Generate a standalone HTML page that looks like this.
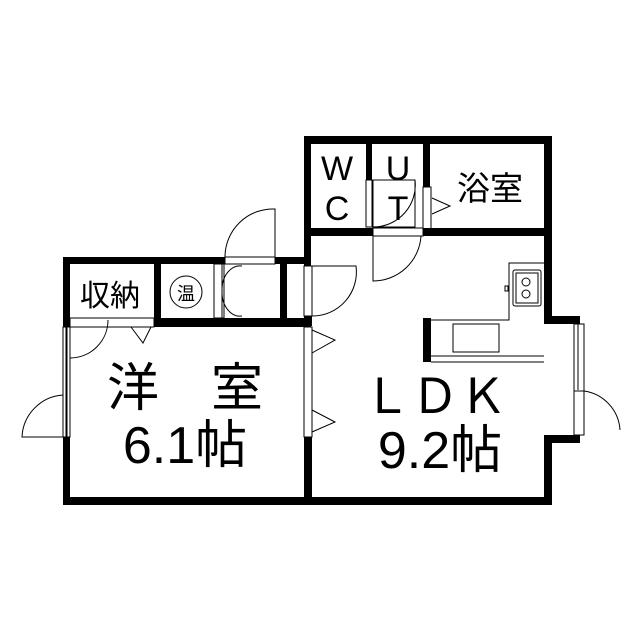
<html><body style="margin:0;background:#fff">
<svg width="640" height="640" viewBox="0 0 640 640" xmlns="http://www.w3.org/2000/svg">
<rect width="640" height="640" fill="#fff"/>
<g fill="#000">
<rect x="304" y="136" width="248" height="8"/>
<rect x="304" y="136" width="7" height="130"/>
<rect x="544" y="136" width="8" height="180"/>
<rect x="304" y="228" width="69" height="8"/>
<rect x="423" y="228" width="129" height="8"/>
<rect x="366" y="136" width="6" height="44"/>
<rect x="423" y="136" width="7" height="51"/>
<rect x="63" y="257" width="162" height="7"/>
<rect x="275" y="257" width="36" height="7"/>
<rect x="63" y="257" width="7" height="70"/>
<rect x="154" y="257" width="7" height="70"/>
<rect x="154" y="318" width="157" height="9"/>
<rect x="280" y="257" width="7" height="70"/>
<rect x="304" y="316" width="8" height="10"/>
<rect x="63" y="437" width="7" height="68"/>
<rect x="63" y="497" width="489" height="8"/>
<rect x="304" y="437" width="8" height="68"/>
<rect x="544" y="316" width="36" height="8"/>
<rect x="544" y="435" width="36" height="8"/>
<rect x="544" y="435" width="8" height="70"/>
<rect x="423" y="318" width="8" height="44"/>
</g>
<g fill="none" stroke="#000" stroke-width="1">
<rect x="366" y="180" width="6" height="47"/>
<rect x="373" y="180" width="42" height="47"/>
<rect x="423" y="187" width="8" height="45"/>
<rect x="373" y="228" width="50" height="8"/>
<path d="M373 236 V281 A48 48 0 0 0 421 236"/>
<path d="M373 227 A42 42 0 0 0 415 180"/>
<path d="M432 198 L450 206 L432 214"/>
<rect x="225" y="257" width="50" height="7"/>
<path d="M275 257 V209 A48 48 0 0 0 225 257"/>
<rect x="214" y="264" width="8" height="54"/>
<rect x="222" y="264" width="2" height="54"/>
<path d="M222 291 A18 24 0 0 1 242 266 M222 291 A18 24 0 0 0 242 316"/>
<rect x="304" y="266" width="8" height="50"/>
<path d="M312 266 H356 A44 44 0 0 1 312 316"/>
<rect x="70" y="318" width="84" height="9"/>
<path d="M70 358 A38 38 0 0 0 108 320"/>
<path d="M131 327 L143 343 L151 327"/>
<rect x="63" y="327" width="7" height="110"/>
<rect x="66" y="327" width="1" height="110"/>
<path d="M63 395 A44 44 0 0 0 22 437 H63"/>
<rect x="304" y="327" width="8" height="110"/>
<path d="M312 330 L335 340 L312 353 M312 410 L335 422 L312 432"/>
<rect x="574" y="324" width="10" height="111"/>
<path d="M578 324 V390"/>
<path d="M584 391 A42 42 0 0 1 620 430"/>
<rect x="574" y="391" width="10" height="44"/>
<path d="M431 320 H509 V263 H544 M431 362 H544 M431 356 H544"/>
<rect x="513" y="270" width="28" height="36" rx="2"/>
<rect x="516" y="273" width="22" height="30"/>
<circle cx="526" cy="282" r="4"/><circle cx="526" cy="294" r="4"/>
<rect x="505" y="286" width="3" height="5"/>
<rect x="453" y="324" width="46" height="28"/>
<circle cx="186" cy="292" r="16"/>
</g>
<g font-family="Liberation Sans, 'Noto Sans CJK JP', sans-serif" fill="#000" text-anchor="middle">
<text x="337" y="180" font-size="34">W</text>
<text x="337" y="220" font-size="34">C</text>
<text x="398" y="180" font-size="34">U</text>
<text x="398" y="220" font-size="34">T</text>
<text x="490" y="200" font-size="33">浴室</text>
<text x="110" y="306" font-size="30">収納</text>
<text x="186" y="300" font-size="18">温</text>
<text x="185" y="406" font-size="52">洋　室</text>
<text x="185" y="463" font-size="52">6.1帖</text>
<text x="435" y="413" font-size="48">ＬＤＫ</text>
<text x="440" y="468" font-size="52">9.2帖</text>
</g>
</svg>
</body></html>
